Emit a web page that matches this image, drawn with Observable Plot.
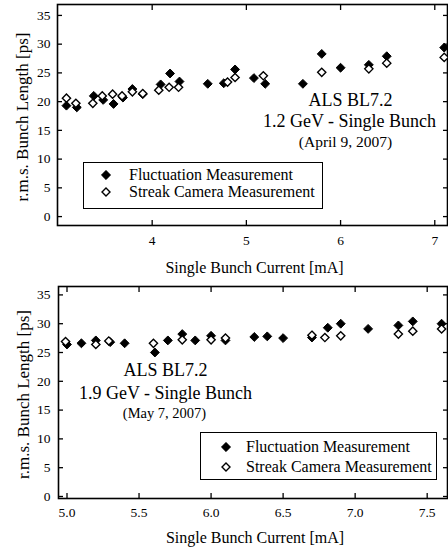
<!DOCTYPE html>
<html><head><meta charset="utf-8">
<script src="https://cdn.jsdelivr.net/npm/d3@7"></script>
<script src="https://cdn.jsdelivr.net/npm/@observablehq/plot@0.6"></script>
<style>
body{margin:0;background:#fff;}
#wrap{position:relative;width:448px;height:553px;font-family:"Liberation Serif","Times New Roman",serif;color:#000;overflow:hidden;}
.panel{position:absolute;left:0;}
.legend{position:absolute;border:1.6px solid #000;background:#fff;box-sizing:border-box;}
.sym{position:absolute;width:10px;height:10px;}
.lt{position:absolute;font-size:16px;line-height:0.9;white-space:nowrap;transform:translateY(-50%);}
</style>
</head><body><div id="wrap"></div>
<script>
// ---- Top panel: 1.2 GeV (April 9, 2007) ----
const topFluctX = [3.09, 3.20, 3.38, 3.48, 3.59, 3.69, 3.79, 3.90, 4.09, 4.19, 4.29, 4.59, 4.76, 4.88, 5.08, 5.20, 5.60, 5.80, 6.00, 6.30, 6.49, 7.10];
const topFluctY = [19.3, 19.0, 21.0, 20.3, 19.6, 20.7, 22.2, 21.3, 23.0, 24.9, 23.5, 23.1, 23.2, 25.6, 24.1, 23.1, 23.1, 28.3, 25.9, 26.4, 27.9, 29.4];
const topStreakX = [3.09, 3.19, 3.37, 3.47, 3.58, 3.68, 3.79, 3.90, 4.07, 4.18, 4.28, 4.80, 4.88, 5.18, 5.80, 6.30, 6.49, 7.10];
const topStreakY = [20.6, 19.7, 19.7, 21.0, 21.3, 21.0, 21.7, 21.4, 22.0, 22.5, 22.5, 23.4, 24.2, 24.5, 25.1, 25.7, 26.7, 27.7];
const topXTicks = [4, 5, 6, 7];
const topYTicks = [0, 5, 10, 15, 20, 25, 30, 35];
const topNote = ["ALS BL7.2", "1.2 GeV - Single Bunch", "(April 9, 2007)"];

// ---- Bottom panel: 1.9 GeV (May 7, 2007) ----
const botFluctX = [5.00, 5.10, 5.20, 5.30, 5.40, 5.61, 5.70, 5.80, 5.89, 6.00, 6.10, 6.30, 6.39, 6.50, 6.70, 6.81, 6.90, 7.09, 7.30, 7.40, 7.60];
const botFluctY = [26.4, 26.6, 27.1, 26.8, 26.6, 25.0, 27.1, 28.2, 27.1, 27.9, 27.1, 27.7, 27.8, 27.5, 27.6, 29.3, 30.0, 29.1, 29.7, 30.4, 30.0];
const botStreakX = [4.99, 5.20, 5.29, 5.60, 5.80, 6.00, 6.10, 6.70, 6.79, 6.90, 7.30, 7.40, 7.60];
const botStreakY = [26.9, 26.4, 27.0, 26.6, 27.2, 27.2, 27.5, 28.0, 27.6, 27.9, 28.2, 28.7, 29.1];
const botXTicks = [5.0, 5.5, 6.0, 6.5, 7.0, 7.5];
const botYTicks = [0, 5, 10, 15, 20, 25, 30, 35];
const botNote = ["ALS BL7.2", "1.9 GeV - Single Bunch", "(May 7, 2007)"];

const xTitle = "Single Bunch Current [mA]";
const yTitle = "r.m.s. Bunch Length [ps]";
const legendLabels = ["Fluctuation Measurement", "Streak Camera Measurement"];

const zip = (xs, ys) => xs.map((x, i) => ({x, y: ys[i]}));

function panel(o) {
  const fl = zip(o.fx, o.fy), st = zip(o.sx, o.sy);
  return Plot.plot({
    width: 448, height: o.height,
    marginTop: o.mt, marginBottom: o.mb, marginLeft: o.ml, marginRight: 1,
    style: {fontFamily: '"Liberation Serif", serif', fontSize: "13px", color: "#000", background: "transparent"},
    x: {domain: o.xd},
    y: {domain: o.yd},
    marks: [
      Plot.axisY(o.yTicks, {anchor: "left", tickSize: -5, tickPadding: o.padY, strokeWidth: 1.3, fontSize: 13.5, label: null}),
      Plot.axisY(o.yTicks, {anchor: "right", tickSize: -5, strokeWidth: 1.3, tickFormat: () => "", label: null}),
      Plot.axisX(o.xTicks, {anchor: "bottom", tickSize: -5, tickPadding: o.padX, strokeWidth: 1.3, fontSize: 13.5, tickFormat: o.xFmt, label: null}),
      Plot.axisX(o.xTicks, {anchor: "top", tickSize: -5, strokeWidth: 1.3, tickFormat: () => "", label: null}),
      Plot.frame({stroke: "#000", strokeWidth: 1.6}),
      Plot.dot(fl, {x: "x", y: "y", symbol: "diamond2", r: 4, fill: "#000", stroke: "#000", strokeWidth: 1}),
      Plot.dot(st, {x: "x", y: "y", symbol: "diamond2", r: 3.7, fill: "#fff", stroke: "#000", strokeWidth: 1.4}),
      Plot.text([o.note[0]], {text: d => d, frameAnchor: "top-left", dx: o.ann[0][0], dy: o.ann[0][1], textAnchor: "middle", lineAnchor: "middle", fontSize: 18}),
      Plot.text([o.note[1]], {text: d => d, frameAnchor: "top-left", dx: o.ann[1][0], dy: o.ann[1][1], textAnchor: "middle", lineAnchor: "middle", fontSize: 18}),
      Plot.text([o.note[2]], {text: d => d, frameAnchor: "top-left", dx: o.ann[2][0], dy: o.ann[2][1], textAnchor: "middle", lineAnchor: "middle", fontSize: o.dateSize}),
      Plot.text([xTitle], {text: d => d, frameAnchor: "bottom", dy: o.xtDy, dx: 2, lineAnchor: "middle", fontSize: 16}),
      Plot.text([yTitle], {text: d => d, frameAnchor: "left", dx: -35, dy: 2, rotate: -90, textAnchor: "middle", lineAnchor: "middle", fontSize: 17})
    ]
  });
}

const wrap = document.getElementById("wrap");

const topPanel = panel({
  fx: topFluctX, fy: topFluctY, sx: topStreakX, sy: topStreakY,
  xd: [2.995, 7.135], yd: [-1.55, 36.9], xTicks: topXTicks, yTicks: topYTicks,
  xFmt: d3.format("d"), height: 278, mt: 4, mb: 53, ml: 57, padX: 15, padY: 12,
  note: topNote, ann: [[293, 96], [292, 117], [288, 138]], dateSize: 15.5, xtDy: 42
});
topPanel.classList.add("panel"); topPanel.style.top = "0px";
wrap.appendChild(topPanel);

const botPanel = panel({
  fx: botFluctX, fy: botFluctY, sx: botStreakX, sy: botStreakY,
  xd: [4.941, 7.641], yd: [-0.35, 36.46], xTicks: botXTicks, yTicks: botYTicks,
  xFmt: d3.format(".1f"), height: 275, mt: 8, mb: 55, ml: 58, padX: 14, padY: 13,
  note: botNote, ann: [[107, 84], [107, 107], [106, 127]], dateSize: 14.5, xtDy: 39
});
botPanel.classList.add("panel"); botPanel.style.top = "278px";
wrap.appendChild(botPanel);

function legend(box, rows, symX, textX) {
  const d = document.createElement("div");
  d.className = "legend";
  Object.assign(d.style, {left: box[0] + "px", top: box[1] + "px", width: box[2] + "px", height: box[3] + "px"});
  legendLabels.forEach((lab, i) => {
    const s = document.createElementNS("http://www.w3.org/2000/svg", "svg");
    s.setAttribute("class", "sym");
    s.setAttribute("viewBox", "0 0 10 10");
    s.style.left = (symX - 5) + "px"; s.style.top = (rows[i] - 5) + "px";
    const p = document.createElementNS("http://www.w3.org/2000/svg", "path");
    p.setAttribute("d", i === 0 ? "M5,0.3L9.7,5L5,9.7L0.3,5Z" : "M5,1L9,5L5,9L1,5Z");
    p.setAttribute("fill", i === 0 ? "#000" : "#fff");
    p.setAttribute("stroke", "#000");
    p.setAttribute("stroke-width", i === 0 ? "0.6" : "1.4");
    s.appendChild(p);
    d.appendChild(s);
    const t = document.createElement("div");
    t.className = "lt"; t.textContent = lab;
    t.style.left = textX + "px"; t.style.top = rows[i] + "px";
    d.appendChild(t);
  });
  wrap.appendChild(d);
}
legend([83, 162, 240, 47], [12, 29], 22, 45);
legend([200, 432, 237, 48], [14, 34], 25, 45);
</script>
</body></html>
